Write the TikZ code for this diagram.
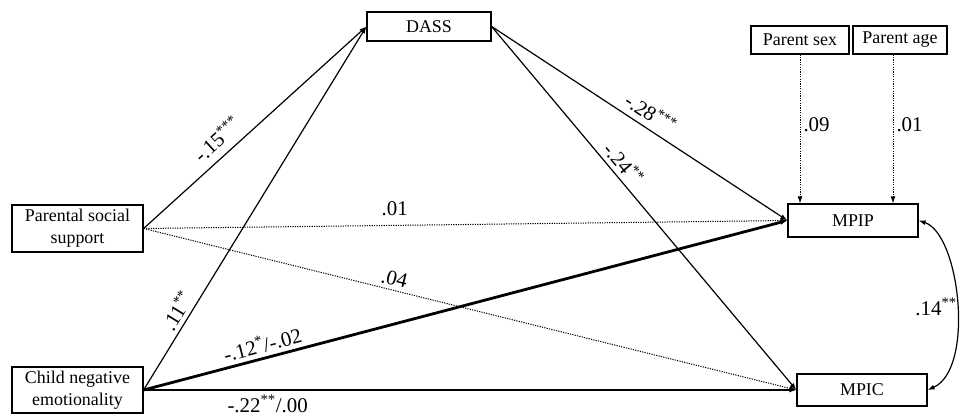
\documentclass[tikz,border=0pt]{standalone}
\usepackage{fontspec}
\setmainfont{Liberation Serif}
\usetikzlibrary{arrows.meta}

\newcommand{\sig}[1]{\textsuperscript{#1}}

\begin{document}
\begin{tikzpicture}[x=1bp, y=1bp,
  box/.style={draw, line width=1.2bp, align=center, inner sep=0pt,
              font=\fontsize{18}{22}\selectfont},
  effect/.style={line width=1.2bp, -{Latex[length=7bp,width=5bp]}},
  weak/.style={effect, line width=1bp, dash pattern=on 1.2bp off 1.2bp},
  strong/.style={effect, line width=2.8bp},
  coef/.style={font=\fontsize{21}{24}\selectfont, inner sep=1bp}
]
\useasboundingbox (0,0) rectangle (960,419);

% predictors and mediator
\node[box, minimum width=131bp, minimum height=47bp] (pss) at (77.5,190.5) {Parental social\\support};
\node[box, minimum width=131bp, minimum height=46bp] (cne) at (77.5,29) {Child negative\\emotionality};
\node[box, minimum width=124bp, minimum height=29bp] (dass) at (429,392.5) {DASS};

% covariates and outcomes
\node[box, minimum width=98bp, minimum height=28bp] (psex) at (800,379) {Parent sex};
\node[box, minimum width=94bp, minimum height=28bp] (page) at (900,379) {Parent age};
\node[box, minimum width=130bp, minimum height=33bp] (mpip) at (853,198.5) {MPIP};
\node[box, minimum width=130bp, minimum height=32bp] (mpic) at (862,29) {MPIC};

% a paths
\draw[effect] (pss.east) -- node[coef, pos=0.38, sloped, above=7bp] {-.15\sig{***}} (dass.west);
\draw[effect] (cne.east) -- node[coef, pos=0.2, sloped, above=3bp] {.11\sig{**}} (dass.west);

% b paths
\draw[effect] (dass.east) -- node[coef, pos=0.51, sloped, above=5bp] {-.28\sig{***}} (mpip.west);
\draw[effect] (dass.east) -- node[coef, pos=0.40, sloped, above=3bp] {-.24\sig{**}} (mpic.west);

% direct paths
\draw[weak] (pss.east) -- node[coef, pos=0.39, above=8bp] {.01} (mpip.west);
\draw[weak] (pss.east) -- node[coef, pos=0.38, sloped, above=3bp] {.04} (mpic.west);
\draw[strong] (cne.east) -- node[coef, pos=0.19, sloped, above=3bp] {-.12\sig{*}/-.02} (mpip.west);
\draw[strong] (cne.east) -- node[coef, pos=0.19, below=3bp] {-.22\sig{**}/.00} (mpic.west);

% covariates
\draw[weak] (psex.south) -- node[coef, pos=0.47, right=2bp] {.09} (psex.south |- mpip.north);
\coordinate (agetop) at ([xshift=-7bp]page.south);
\draw[weak] (agetop) -- node[coef, pos=0.47, right=2bp] {.01} (agetop |- mpip.north);

% residual covariance
\draw[line width=1.2bp, {Latex[length=7bp,width=5bp]}-{Latex[length=7bp,width=5bp]}]
  (mpip.east) .. controls (960,185) and (975,50) .. (mpic.east);
\node[coef] (cov) at (936,112) {.14\sig{**}};
\end{tikzpicture}
\end{document}
